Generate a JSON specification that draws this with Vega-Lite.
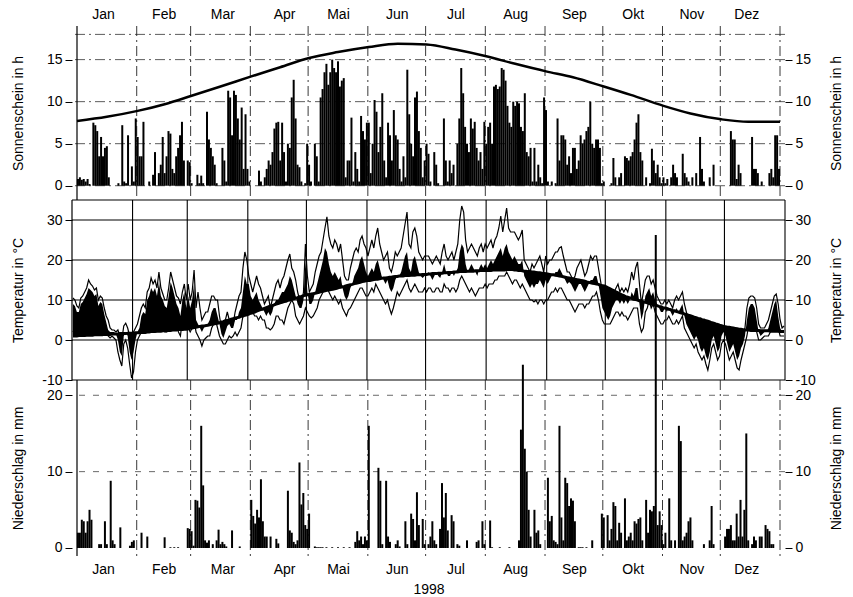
{
"$schema":"https://vega.github.io/schema/vega-lite/v6.json",
"padding":{"left":11,"top":7,"right":10,"bottom":2},
"bounds":"flush",
"spacing":0,
"config":{"view":{"stroke":null},"font":"Liberation Sans",
"axis":{"labelFont":"Liberation Sans","labelFontSize":14,"labelColor":"#000","titleFont":"Liberation Sans","titleFontSize":14,"titleFontWeight":"normal","titleColor":"#000","domain":false,"grid":false,"tickColor":"#000","tickSize":7,"labelPadding":3}},
"datasets":{
"hs":[{"v":0},{"v":5},{"v":10},{"v":15},{"v":18}],
"ht":[{"v":-10},{"v":0},{"v":10},{"v":20},{"v":30},{"v":35}],
"hp":[{"v":10},{"v":20}],
"mb":[{"b":31.5},{"b":59.5},{"b":90.5},{"b":120.5},{"b":151.5},{"b":181.5},{"b":212.5},{"b":243.5},{"b":273.5},{"b":304.5},{"b":334.5},{"b":365.5}],
"edge":[{"b":0.5}],
"astro":[{"d":0.5,"h":7.7},{"d":16,"h":8.2},{"d":32,"h":8.9},{"d":46,"h":9.7},{"d":60,"h":10.7},{"d":75,"h":11.8},{"d":91,"h":13.0},{"d":106,"h":14.1},{"d":121,"h":15.2},{"d":136,"h":15.9},{"d":152,"h":16.5},{"d":167,"h":16.9},{"d":182,"h":16.8},{"d":197,"h":16.2},{"d":213,"h":15.4},{"d":228,"h":14.5},{"d":244,"h":13.6},{"d":258,"h":12.9},{"d":274,"h":11.8},{"d":288,"h":10.8},{"d":305,"h":9.5},{"d":319,"h":8.6},{"d":335,"h":7.9},{"d":349,"h":7.6},{"d":365.5,"h":7.6}],
"daily":[
{"d":1,"s":0.8,"p":2,"x":10.5,"n":2,"m":9,"c":1},
{"d":2,"s":1,"p":2,"x":10,"n":3,"m":8.5,"c":1},
{"d":3,"s":0.7,"p":3.7,"x":8.5,"n":2,"m":7,"c":1},
{"d":4,"s":0.8,"p":3.5,"x":8,"n":2.5,"m":7,"c":1.1},
{"d":5,"s":0.5,"p":2,"x":10.5,"n":3,"m":9,"c":1.1},
{"d":6,"s":0.8,"p":3.5,"x":11,"n":3,"m":9.5,"c":1.1},
{"d":7,"s":0.2,"p":5,"x":12,"n":3,"m":10.5,"c":1.1},
{"d":8,"s":0,"p":3.7,"x":13,"n":4,"m":11.5,"c":1.2},
{"d":9,"s":7.5,"p":0,"x":15,"n":4,"m":13,"c":1.2},
{"d":10,"s":7.2,"p":0,"x":14,"n":4,"m":12.5,"c":1.2},
{"d":11,"s":6.5,"p":0,"x":13.5,"n":3,"m":12,"c":1.2},
{"d":12,"s":3.5,"p":0.5,"x":12.5,"n":4,"m":11,"c":1.3},
{"d":13,"s":5.8,"p":0.5,"x":13,"n":3,"m":11.5,"c":1.3},
{"d":14,"s":3.5,"p":0,"x":10,"n":2,"m":8.5,"c":1.3},
{"d":15,"s":4.5,"p":3.5,"x":11,"n":2,"m":9.5,"c":1.3},
{"d":16,"s":4.7,"p":0.5,"x":10.5,"n":3,"m":9,"c":1.3},
{"d":17,"s":1,"p":0,"x":8,"n":2,"m":6.5,"c":1.4},
{"d":18,"s":0,"p":8.8,"x":6,"n":2,"m":4.5,"c":1.4},
{"d":19,"s":0,"p":1,"x":5,"n":1,"m":2.5,"c":1.4},
{"d":20,"s":0,"p":0.5,"x":3,"n":0.5,"m":2,"c":1.4},
{"d":21,"s":0,"p":0,"x":2.5,"n":1,"m":2,"c":1.5},
{"d":22,"s":0.3,"p":0,"x":2.5,"n":0.5,"m":2,"c":1.5},
{"d":23,"s":0,"p":2.7,"x":2,"n":0,"m":1.5,"c":1.5},
{"d":24,"s":7.2,"p":0,"x":2.5,"n":-3,"m":0,"c":1.5},
{"d":25,"s":0.5,"p":0,"x":1,"n":-5,"m":-3,"c":1.6},
{"d":26,"s":0.3,"p":0,"x":0,"n":-6.5,"m":-4,"c":1.6},
{"d":27,"s":6,"p":0,"x":3.5,"n":-1,"m":1,"c":1.6},
{"d":28,"s":0,"p":0.3,"x":4.2,"n":0,"m":2,"c":1.6},
{"d":29,"s":2.3,"p":0.8,"x":3,"n":-2,"m":1,"c":1.7},
{"d":30,"s":0.5,"p":1,"x":1,"n":-6,"m":-3,"c":1.7},
{"d":31,"s":8,"p":0,"x":0,"n":-9.5,"m":-5,"c":1.7},
{"d":32,"s":5.8,"p":0,"x":2,"n":-8,"m":-3,"c":1.7},
{"d":33,"s":3.5,"p":0,"x":3,"n":-3,"m":0,"c":1.8},
{"d":34,"s":3.5,"p":2,"x":4,"n":0,"m":2,"c":1.8},
{"d":35,"s":7.6,"p":0,"x":6,"n":1,"m":3,"c":1.8},
{"d":36,"s":0,"p":0,"x":8,"n":2,"m":6,"c":1.9},
{"d":37,"s":0,"p":1.5,"x":9,"n":2,"m":7,"c":1.9},
{"d":38,"s":0.5,"p":0,"x":8,"n":3,"m":6.5,"c":1.9},
{"d":39,"s":0,"p":0,"x":12,"n":4,"m":10,"c":2},
{"d":40,"s":1.3,"p":0,"x":13,"n":5,"m":11,"c":2},
{"d":41,"s":4,"p":0,"x":15.5,"n":8,"m":13,"c":2.1},
{"d":42,"s":0,"p":0,"x":14,"n":7,"m":12,"c":2.1},
{"d":43,"s":1.5,"p":0,"x":15,"n":6,"m":13,"c":2.1},
{"d":44,"s":2.5,"p":0,"x":13,"n":4,"m":11,"c":2.2},
{"d":45,"s":5.8,"p":0,"x":17,"n":6,"m":14.5,"c":2.2},
{"d":46,"s":1.5,"p":1.4,"x":13,"n":3,"m":11,"c":2.2},
{"d":47,"s":3.5,"p":0,"x":11.5,"n":4,"m":10,"c":2.3},
{"d":48,"s":6.5,"p":0,"x":10,"n":2,"m":8.5,"c":2.3},
{"d":49,"s":6.2,"p":0.1,"x":10,"n":2,"m":8,"c":2.3},
{"d":50,"s":2,"p":0,"x":13,"n":3,"m":11,"c":2.4},
{"d":51,"s":1.5,"p":0.1,"x":17,"n":5,"m":14.5,"c":2.4},
{"d":52,"s":3.5,"p":0,"x":15,"n":4,"m":13,"c":2.5},
{"d":53,"s":4.5,"p":0.1,"x":13,"n":3,"m":11,"c":2.5},
{"d":54,"s":6,"p":0,"x":11,"n":4,"m":9,"c":2.5},
{"d":55,"s":7.6,"p":0,"x":10.5,"n":2,"m":8,"c":2.6},
{"d":56,"s":3,"p":0,"x":9,"n":1,"m":6,"c":2.6},
{"d":57,"s":0,"p":0,"x":12,"n":5,"m":10,"c":2.6},
{"d":58,"s":3,"p":2.6,"x":14,"n":6,"m":12,"c":2.7},
{"d":59,"s":2.8,"p":2.5,"x":10,"n":3,"m":8,"c":2.7},
{"d":60,"s":0.3,"p":2.2,"x":14,"n":3,"m":11,"c":2.8},
{"d":61,"s":0,"p":0.3,"x":10,"n":2,"m":8,"c":2.9},
{"d":62,"s":0,"p":6.3,"x":12,"n":3,"m":10,"c":3},
{"d":63,"s":1.3,"p":6.2,"x":17.5,"n":5,"m":14,"c":3.1},
{"d":64,"s":0.3,"p":5.3,"x":8,"n":2,"m":5,"c":3.2},
{"d":65,"s":1.2,"p":16,"x":12,"n":1,"m":4,"c":3.3},
{"d":66,"s":0.3,"p":8.2,"x":8,"n":0,"m":3,"c":3.4},
{"d":67,"s":0,"p":1,"x":5,"n":-1.5,"m":2,"c":3.5},
{"d":68,"s":8.8,"p":0.7,"x":6,"n":0,"m":3,"c":3.5},
{"d":69,"s":5.5,"p":1,"x":7,"n":0.5,"m":4,"c":3.6},
{"d":70,"s":4.5,"p":0,"x":7,"n":1,"m":4,"c":3.7},
{"d":71,"s":3.5,"p":0.5,"x":9,"n":1,"m":5,"c":3.8},
{"d":72,"s":2.5,"p":0,"x":11,"n":3,"m":7,"c":3.9},
{"d":73,"s":0.3,"p":1,"x":11,"n":4,"m":8,"c":4},
{"d":74,"s":0,"p":2.4,"x":10,"n":5,"m":8,"c":4.1},
{"d":75,"s":0,"p":0.5,"x":10,"n":3,"m":6,"c":4.2},
{"d":76,"s":4.5,"p":0.8,"x":6,"n":1,"m":4,"c":4.3},
{"d":77,"s":3,"p":0.5,"x":3,"n":0,"m":1.5,"c":4.5},
{"d":78,"s":0.5,"p":0.2,"x":2,"n":-1,"m":0.5,"c":4.6},
{"d":79,"s":11.3,"p":0,"x":5,"n":-1,"m":2,"c":4.8},
{"d":80,"s":10.5,"p":0,"x":7,"n":0,"m":3.5,"c":4.9},
{"d":81,"s":6,"p":2.3,"x":5,"n":1,"m":4,"c":5},
{"d":82,"s":11.3,"p":0,"x":5,"n":0.5,"m":3,"c":5.2},
{"d":83,"s":10.8,"p":0,"x":4,"n":1,"m":3,"c":5.3},
{"d":84,"s":8,"p":0,"x":7,"n":2,"m":5,"c":5.5},
{"d":85,"s":5.5,"p":0.2,"x":9,"n":1,"m":5,"c":5.6},
{"d":86,"s":9.3,"p":0,"x":11,"n":2,"m":7,"c":5.7},
{"d":87,"s":2,"p":0,"x":12,"n":3,"m":8,"c":5.9},
{"d":88,"s":8.5,"p":0,"x":18,"n":6,"m":12,"c":6},
{"d":89,"s":2,"p":0,"x":22,"n":8,"m":16,"c":6.2},
{"d":90,"s":0.5,"p":0,"x":20,"n":8,"m":14,"c":6.3},
{"d":91,"s":0,"p":6.3,"x":16,"n":8,"m":14,"c":6.5},
{"d":92,"s":0,"p":4.2,"x":14,"n":7,"m":11,"c":6.7},
{"d":93,"s":0,"p":3.2,"x":12,"n":7,"m":10,"c":6.8},
{"d":94,"s":0,"p":5,"x":14,"n":6,"m":11,"c":7},
{"d":95,"s":1.8,"p":4,"x":16,"n":6,"m":12,"c":7.2},
{"d":96,"s":0.5,"p":9,"x":14,"n":5,"m":10,"c":7.4},
{"d":97,"s":0,"p":3.5,"x":13,"n":6,"m":9,"c":7.6},
{"d":98,"s":1,"p":1.5,"x":11,"n":5,"m":8,"c":7.7},
{"d":99,"s":2,"p":1.5,"x":9,"n":5,"m":7,"c":7.9},
{"d":100,"s":3,"p":0,"x":10,"n":3,"m":6,"c":8.1},
{"d":101,"s":2.5,"p":1.5,"x":11,"n":3,"m":7,"c":8.3},
{"d":102,"s":4,"p":0,"x":8,"n":2.5,"m":6,"c":8.5},
{"d":103,"s":6.8,"p":0,"x":10,"n":3,"m":7,"c":8.6},
{"d":104,"s":7.5,"p":1.2,"x":12,"n":4,"m":9,"c":8.8},
{"d":105,"s":7.6,"p":0.6,"x":14,"n":6,"m":10,"c":9},
{"d":106,"s":3,"p":0,"x":15,"n":6,"m":10,"c":9.1},
{"d":107,"s":7.5,"p":0,"x":13,"n":5,"m":11,"c":9.3},
{"d":108,"s":4,"p":0,"x":15,"n":5,"m":12,"c":9.4},
{"d":109,"s":0.5,"p":0,"x":16,"n":4,"m":12,"c":9.6},
{"d":110,"s":5,"p":7.5,"x":18,"n":6,"m":13,"c":9.7},
{"d":111,"s":4.5,"p":2.3,"x":20,"n":8,"m":14,"c":9.9},
{"d":112,"s":10.5,"p":2,"x":21.5,"n":9,"m":16,"c":10},
{"d":113,"s":12.6,"p":0.8,"x":18,"n":10,"m":15,"c":10.2},
{"d":114,"s":8,"p":0.5,"x":17,"n":9,"m":13,"c":10.3},
{"d":115,"s":2.5,"p":1,"x":15,"n":6,"m":11,"c":10.5},
{"d":116,"s":2.2,"p":11.2,"x":12,"n":5,"m":9,"c":10.6},
{"d":117,"s":0.5,"p":5.7,"x":10,"n":4,"m":8,"c":10.8},
{"d":118,"s":0,"p":7.2,"x":9,"n":5,"m":8,"c":10.9},
{"d":119,"s":0.3,"p":3,"x":12,"n":6,"m":10,"c":11.1},
{"d":120,"s":5,"p":2.5,"x":24,"n":8,"m":20,"c":11.2},
{"d":121,"s":2.5,"p":4.5,"x":16,"n":7,"m":12,"c":11.3},
{"d":122,"s":0.5,"p":0,"x":12,"n":6,"m":9,"c":11.4},
{"d":123,"s":0,"p":0,"x":13,"n":5.5,"m":9,"c":11.5},
{"d":124,"s":5,"p":0.2,"x":14,"n":6,"m":10,"c":11.6},
{"d":125,"s":3.5,"p":0.1,"x":17,"n":7,"m":12,"c":11.7},
{"d":126,"s":0.5,"p":0.1,"x":19,"n":8,"m":14,"c":11.8},
{"d":127,"s":10.5,"p":0.1,"x":21,"n":10,"m":16,"c":11.9},
{"d":128,"s":11.5,"p":0.1,"x":22,"n":11,"m":18,"c":12.1},
{"d":129,"s":13.5,"p":0,"x":25,"n":12,"m":20,"c":12.2},
{"d":130,"s":14.5,"p":0.1,"x":28,"n":14,"m":23,"c":12.3},
{"d":131,"s":12,"p":0,"x":30.8,"n":14,"m":22,"c":12.4},
{"d":132,"s":13.5,"p":0,"x":26,"n":12,"m":19,"c":12.5},
{"d":133,"s":15,"p":0.1,"x":24,"n":11,"m":17,"c":12.6},
{"d":134,"s":14,"p":0,"x":23,"n":10,"m":16,"c":12.7},
{"d":135,"s":13.5,"p":0,"x":25,"n":11,"m":17,"c":12.8},
{"d":136,"s":14.8,"p":0.1,"x":24,"n":10,"m":16,"c":12.9},
{"d":137,"s":11.8,"p":0,"x":22,"n":9,"m":15,"c":13.1},
{"d":138,"s":12.5,"p":0,"x":24,"n":10,"m":16,"c":13.2},
{"d":139,"s":12.8,"p":0.1,"x":20,"n":8,"m":13,"c":13.3},
{"d":140,"s":1,"p":0,"x":16,"n":7,"m":11,"c":13.4},
{"d":141,"s":3,"p":0,"x":15,"n":6,"m":10,"c":13.6},
{"d":142,"s":3,"p":0.1,"x":15,"n":7.5,"m":11,"c":13.7},
{"d":143,"s":8.1,"p":0,"x":18,"n":8,"m":13,"c":13.8},
{"d":144,"s":0.5,"p":0,"x":20,"n":9,"m":14,"c":13.9},
{"d":145,"s":4,"p":0.8,"x":22,"n":10,"m":16,"c":14.1},
{"d":146,"s":2,"p":2.2,"x":23,"n":11,"m":17,"c":14.2},
{"d":147,"s":0.5,"p":1,"x":22,"n":12,"m":18,"c":14.3},
{"d":148,"s":8.3,"p":1.5,"x":25,"n":13,"m":20,"c":14.4},
{"d":149,"s":6.5,"p":0.5,"x":26,"n":13,"m":21,"c":14.6},
{"d":150,"s":5.5,"p":1.5,"x":24,"n":12,"m":19,"c":14.7},
{"d":151,"s":7.5,"p":1,"x":23,"n":11,"m":17,"c":14.8},
{"d":152,"s":7.5,"p":16,"x":21,"n":11,"m":16,"c":14.9},
{"d":153,"s":1.5,"p":0,"x":23,"n":12,"m":17,"c":14.9},
{"d":154,"s":5,"p":0,"x":25,"n":13,"m":18,"c":15},
{"d":155,"s":10.2,"p":0,"x":23,"n":12,"m":17,"c":15.1},
{"d":156,"s":8.8,"p":0,"x":26,"n":14,"m":19,"c":15.2},
{"d":157,"s":4,"p":10.5,"x":28,"n":13,"m":20,"c":15.2},
{"d":158,"s":7,"p":8.8,"x":24,"n":12,"m":18,"c":15.3},
{"d":159,"s":11,"p":0.5,"x":22,"n":11,"m":16,"c":15.4},
{"d":160,"s":3,"p":0,"x":20,"n":10,"m":15,"c":15.5},
{"d":161,"s":1,"p":8.8,"x":21,"n":9,"m":14,"c":15.5},
{"d":162,"s":7.5,"p":1.5,"x":22,"n":10,"m":15,"c":15.6},
{"d":163,"s":6,"p":0.8,"x":18,"n":8,"m":13,"c":15.7},
{"d":164,"s":3,"p":0,"x":17,"n":6.5,"m":12,"c":15.7},
{"d":165,"s":9,"p":0,"x":19,"n":8,"m":13,"c":15.8},
{"d":166,"s":6,"p":0.5,"x":22,"n":10,"m":15,"c":15.9},
{"d":167,"s":5.5,"p":1,"x":21,"n":12,"m":16,"c":15.9},
{"d":168,"s":2,"p":0.2,"x":22,"n":11,"m":16,"c":16},
{"d":169,"s":0.5,"p":0,"x":23,"n":12,"m":17,"c":16},
{"d":170,"s":3.5,"p":0,"x":26,"n":13,"m":19,"c":16},
{"d":171,"s":1,"p":3.5,"x":29,"n":14,"m":21,"c":16.1},
{"d":172,"s":13.8,"p":0.5,"x":32,"n":15,"m":22,"c":16.1},
{"d":173,"s":8.5,"p":0,"x":24,"n":13,"m":18,"c":16.1},
{"d":174,"s":5,"p":4.5,"x":23,"n":12,"m":17,"c":16.2},
{"d":175,"s":3.5,"p":3.8,"x":27,"n":13,"m":20,"c":16.2},
{"d":176,"s":10.5,"p":1,"x":28,"n":14,"m":21,"c":16.2},
{"d":177,"s":11.2,"p":7.3,"x":26,"n":13,"m":19,"c":16.3},
{"d":178,"s":6.5,"p":3,"x":22,"n":12,"m":17,"c":16.3},
{"d":179,"s":4.5,"p":0,"x":21,"n":12,"m":16,"c":16.3},
{"d":180,"s":1,"p":3.8,"x":20,"n":12,"m":15.5,"c":16.4},
{"d":181,"s":3,"p":0.5,"x":21,"n":13,"m":16,"c":16.4},
{"d":182,"s":5,"p":0,"x":21,"n":12,"m":16,"c":16.4},
{"d":183,"s":3.8,"p":0.5,"x":21,"n":13,"m":17,"c":16.5},
{"d":184,"s":0.5,"p":1.5,"x":20,"n":13,"m":16,"c":16.5},
{"d":185,"s":0,"p":3.5,"x":19,"n":12,"m":15,"c":16.6},
{"d":186,"s":4,"p":1,"x":20,"n":12,"m":16,"c":16.6},
{"d":187,"s":2.5,"p":0.5,"x":21,"n":13,"m":17,"c":16.6},
{"d":188,"s":0.3,"p":0,"x":20,"n":13,"m":16,"c":16.7},
{"d":189,"s":0,"p":2.5,"x":19,"n":12,"m":15.5,"c":16.7},
{"d":190,"s":0,"p":8.5,"x":22,"n":12,"m":17,"c":16.7},
{"d":191,"s":8,"p":4,"x":24,"n":14,"m":19,"c":16.8},
{"d":192,"s":3,"p":7.2,"x":21,"n":13,"m":17,"c":16.8},
{"d":193,"s":0.5,"p":2.3,"x":20,"n":13,"m":16,"c":16.9},
{"d":194,"s":3,"p":0,"x":21,"n":12,"m":16,"c":16.9},
{"d":195,"s":1.5,"p":4.3,"x":22,"n":13,"m":17,"c":16.9},
{"d":196,"s":2.5,"p":3.5,"x":20,"n":13,"m":16,"c":17},
{"d":197,"s":0,"p":0,"x":22,"n":12,"m":17,"c":17},
{"d":198,"s":5,"p":0.5,"x":24,"n":13,"m":18,"c":17},
{"d":199,"s":8,"p":0.3,"x":30,"n":15,"m":22,"c":17.1},
{"d":200,"s":14,"p":0,"x":33.5,"n":16,"m":24,"c":17.1},
{"d":201,"s":11,"p":0,"x":32,"n":15,"m":23,"c":17.1},
{"d":202,"s":7,"p":0,"x":25,"n":14,"m":19,"c":17.1},
{"d":203,"s":5,"p":1,"x":22,"n":13,"m":17,"c":17.2},
{"d":204,"s":4,"p":0,"x":23,"n":12,"m":18,"c":17.2},
{"d":205,"s":8,"p":0,"x":24,"n":13,"m":19,"c":17.2},
{"d":206,"s":6.8,"p":0,"x":23,"n":12,"m":18,"c":17.2},
{"d":207,"s":7.6,"p":0,"x":22,"n":11,"m":17,"c":17.3},
{"d":208,"s":4.5,"p":0.8,"x":21,"n":12,"m":16,"c":17.3},
{"d":209,"s":3,"p":1,"x":23,"n":13,"m":18,"c":17.3},
{"d":210,"s":4,"p":0,"x":24,"n":13,"m":19,"c":17.4},
{"d":211,"s":2,"p":3.5,"x":22,"n":13,"m":18,"c":17.4},
{"d":212,"s":7.6,"p":0.5,"x":24,"n":14,"m":19,"c":17.4},
{"d":213,"s":5,"p":0,"x":23,"n":13,"m":18,"c":17.4},
{"d":214,"s":7,"p":0,"x":24,"n":14,"m":19,"c":17.4},
{"d":215,"s":7.5,"p":3.6,"x":25,"n":14,"m":20,"c":17.4},
{"d":216,"s":5,"p":0.1,"x":23,"n":14,"m":19,"c":17.5},
{"d":217,"s":11.8,"p":0,"x":25,"n":15,"m":20,"c":17.5},
{"d":218,"s":12,"p":0,"x":26,"n":15,"m":21,"c":17.5},
{"d":219,"s":11.5,"p":0,"x":28,"n":16,"m":22,"c":17.5},
{"d":220,"s":11.8,"p":0.1,"x":31,"n":16,"m":23,"c":17.5},
{"d":221,"s":14,"p":0,"x":27,"n":16,"m":21,"c":17.5},
{"d":222,"s":13.8,"p":0,"x":30,"n":16,"m":23,"c":17.5},
{"d":223,"s":12.5,"p":0,"x":33,"n":17,"m":24,"c":17.6},
{"d":224,"s":9.5,"p":0,"x":28,"n":16,"m":22,"c":17.6},
{"d":225,"s":7.5,"p":0.1,"x":27,"n":15,"m":21,"c":17.6},
{"d":226,"s":7,"p":0,"x":27,"n":14,"m":20,"c":17.6},
{"d":227,"s":10,"p":0,"x":27,"n":15,"m":21,"c":17.5},
{"d":228,"s":9.5,"p":0,"x":26,"n":15,"m":20,"c":17.5},
{"d":229,"s":10,"p":0,"x":25,"n":14,"m":19,"c":17.4},
{"d":230,"s":9.8,"p":1,"x":26,"n":13,"m":19,"c":17.4},
{"d":231,"s":7,"p":15.5,"x":27.5,"n":14,"m":20,"c":17.3},
{"d":232,"s":6.5,"p":24,"x":20,"n":13,"m":16,"c":17.2},
{"d":233,"s":11,"p":13,"x":19,"n":12,"m":15,"c":17.2},
{"d":234,"s":4,"p":10,"x":18,"n":11,"m":14,"c":17.1},
{"d":235,"s":3.5,"p":5,"x":17,"n":10,"m":13,"c":17.1},
{"d":236,"s":4.5,"p":1.5,"x":19,"n":10,"m":14,"c":17},
{"d":237,"s":0.5,"p":0,"x":18,"n":9.5,"m":13,"c":17},
{"d":238,"s":4.5,"p":5,"x":19,"n":10,"m":14,"c":16.9},
{"d":239,"s":0.5,"p":2,"x":20,"n":9,"m":14,"c":16.8},
{"d":240,"s":2.5,"p":2.3,"x":21,"n":10,"m":15,"c":16.8},
{"d":241,"s":1,"p":0.5,"x":19,"n":10,"m":14,"c":16.7},
{"d":242,"s":0.3,"p":0,"x":17,"n":9,"m":13,"c":16.7},
{"d":243,"s":10.5,"p":0,"x":21,"n":10,"m":15,"c":16.6},
{"d":244,"s":9,"p":0,"x":19,"n":10,"m":14,"c":16.5},
{"d":245,"s":0.5,"p":9.2,"x":20,"n":11,"m":15,"c":16.4},
{"d":246,"s":0,"p":3.5,"x":20,"n":12,"m":16,"c":16.3},
{"d":247,"s":0.5,"p":4.2,"x":21,"n":12,"m":16,"c":16.3},
{"d":248,"s":0,"p":1,"x":22,"n":13,"m":17,"c":16.2},
{"d":249,"s":0.3,"p":0.8,"x":22,"n":12,"m":17,"c":16.1},
{"d":250,"s":8,"p":0.5,"x":23,"n":13,"m":18,"c":16},
{"d":251,"s":3,"p":16,"x":23.3,"n":13,"m":17,"c":15.9},
{"d":252,"s":6,"p":4,"x":21,"n":12,"m":16,"c":15.8},
{"d":253,"s":6,"p":1,"x":19,"n":11,"m":15,"c":15.7},
{"d":254,"s":5.5,"p":9.2,"x":17,"n":10,"m":14,"c":15.6},
{"d":255,"s":2.5,"p":8.5,"x":17,"n":10,"m":14.5,"c":15.5},
{"d":256,"s":3.5,"p":5.5,"x":16,"n":9,"m":14,"c":15.4},
{"d":257,"s":1.5,"p":6.5,"x":15,"n":8,"m":13,"c":15.3},
{"d":258,"s":4.5,"p":6.2,"x":16,"n":7,"m":12,"c":15.2},
{"d":259,"s":4.5,"p":3.5,"x":18,"n":8,"m":13,"c":15.1},
{"d":260,"s":2,"p":0,"x":19,"n":9,"m":14,"c":15},
{"d":261,"s":3,"p":0.1,"x":20,"n":9,"m":14,"c":14.9},
{"d":262,"s":6,"p":0.1,"x":18,"n":9,"m":13,"c":14.8},
{"d":263,"s":5,"p":0.1,"x":16,"n":8,"m":12,"c":14.7},
{"d":264,"s":5.5,"p":0,"x":17,"n":9,"m":13,"c":14.5},
{"d":265,"s":6.5,"p":0.1,"x":19,"n":9,"m":14,"c":14.4},
{"d":266,"s":7,"p":0,"x":21,"n":10,"m":15,"c":14.3},
{"d":267,"s":10,"p":0,"x":20,"n":11,"m":15,"c":14.2},
{"d":268,"s":5,"p":1,"x":21,"n":11,"m":16,"c":14.1},
{"d":269,"s":4.5,"p":0,"x":21,"n":12,"m":16,"c":14},
{"d":270,"s":5.5,"p":0,"x":18,"n":10,"m":14,"c":13.9},
{"d":271,"s":5.5,"p":0,"x":15,"n":7,"m":11,"c":13.7},
{"d":272,"s":4.5,"p":0,"x":12,"n":5,"m":8,"c":13.6},
{"d":273,"s":0.3,"p":4.5,"x":11,"n":4,"m":7,"c":13.5},
{"d":274,"s":0.5,"p":4,"x":10,"n":4,"m":6,"c":13.3},
{"d":275,"s":0,"p":0,"x":8,"n":4,"m":5,"c":13},
{"d":276,"s":0,"p":4.3,"x":9,"n":4,"m":6,"c":12.8},
{"d":277,"s":0,"p":1,"x":11,"n":5,"m":8,"c":12.5},
{"d":278,"s":0.3,"p":2.5,"x":12,"n":6,"m":9,"c":12.3},
{"d":279,"s":3.3,"p":6,"x":13,"n":7,"m":10,"c":12},
{"d":280,"s":1,"p":5.5,"x":14,"n":7,"m":10,"c":11.8},
{"d":281,"s":0,"p":1,"x":12,"n":6,"m":9,"c":11.5},
{"d":282,"s":1,"p":3.3,"x":13,"n":7,"m":10,"c":11.3},
{"d":283,"s":1.5,"p":2,"x":12,"n":6,"m":9,"c":11.1},
{"d":284,"s":0,"p":0,"x":13,"n":6,"m":10,"c":10.8},
{"d":285,"s":3.5,"p":6.5,"x":12,"n":5,"m":9,"c":10.7},
{"d":286,"s":3.3,"p":1,"x":14,"n":6,"m":10,"c":10.5},
{"d":287,"s":3,"p":1.5,"x":17,"n":7,"m":12,"c":10.4},
{"d":288,"s":3.5,"p":2,"x":15,"n":8,"m":11,"c":10.2},
{"d":289,"s":4,"p":1,"x":18,"n":8,"m":13,"c":10.1},
{"d":290,"s":5.5,"p":3.5,"x":19.5,"n":8,"m":13,"c":10},
{"d":291,"s":7.5,"p":3.2,"x":14,"n":4,"m":9,"c":9.8},
{"d":292,"s":8.5,"p":3.8,"x":9,"n":2,"m":5,"c":9.7},
{"d":293,"s":4,"p":4,"x":12,"n":3,"m":7,"c":9.5},
{"d":294,"s":3,"p":1,"x":15,"n":7,"m":11,"c":9.4},
{"d":295,"s":0,"p":0,"x":16,"n":8,"m":12,"c":9.3},
{"d":296,"s":1,"p":6.3,"x":16,"n":10,"m":13,"c":9.1},
{"d":297,"s":0,"p":2,"x":14,"n":8,"m":11,"c":9},
{"d":298,"s":0.3,"p":5,"x":15,"n":9,"m":12,"c":8.8},
{"d":299,"s":4.4,"p":4.8,"x":13,"n":7,"m":10,"c":8.7},
{"d":300,"s":3,"p":5.5,"x":11,"n":6,"m":9,"c":8.6},
{"d":301,"s":1.5,"p":41,"x":10,"n":5,"m":8,"c":8.4},
{"d":302,"s":2.5,"p":3,"x":9,"n":4,"m":7,"c":8.3},
{"d":303,"s":1,"p":4.8,"x":9,"n":4,"m":7,"c":8.1},
{"d":304,"s":0.3,"p":3,"x":10,"n":5,"m":8,"c":8},
{"d":305,"s":1,"p":0.5,"x":9,"n":5,"m":7,"c":7.9},
{"d":306,"s":0.3,"p":2,"x":10,"n":6,"m":8,"c":7.7},
{"d":307,"s":0.8,"p":0,"x":9,"n":5,"m":7,"c":7.6},
{"d":308,"s":0,"p":6.5,"x":8,"n":4,"m":6,"c":7.4},
{"d":309,"s":1,"p":1,"x":10,"n":4,"m":7,"c":7.3},
{"d":310,"s":2.5,"p":0,"x":11,"n":5,"m":8,"c":7.1},
{"d":311,"s":1.5,"p":1,"x":10,"n":4,"m":7,"c":7},
{"d":312,"s":1,"p":0,"x":11,"n":5,"m":8,"c":6.8},
{"d":313,"s":0,"p":16,"x":12,"n":6,"m":9,"c":6.7},
{"d":314,"s":0,"p":14,"x":9,"n":3,"m":6,"c":6.5},
{"d":315,"s":3.8,"p":1,"x":7,"n":2,"m":4,"c":6.4},
{"d":316,"s":1.5,"p":1.5,"x":5,"n":1,"m":3,"c":6.2},
{"d":317,"s":1,"p":2,"x":4,"n":0,"m":2,"c":6.1},
{"d":318,"s":0.5,"p":3.5,"x":3,"n":-1,"m":1,"c":5.9},
{"d":319,"s":0,"p":4,"x":2,"n":-2,"m":0,"c":5.7},
{"d":320,"s":1,"p":1,"x":3,"n":-1,"m":1,"c":5.6},
{"d":321,"s":0,"p":0,"x":2,"n":-3,"m":0,"c":5.4},
{"d":322,"s":1.5,"p":0,"x":1,"n":-4,"m":-2,"c":5.3},
{"d":323,"s":0,"p":0,"x":0,"n":-5,"m":-3,"c":5.1},
{"d":324,"s":5.8,"p":0,"x":1,"n":-4,"m":-2,"c":5},
{"d":325,"s":2,"p":0,"x":-1,"n":-6,"m":-4,"c":4.8},
{"d":326,"s":0.5,"p":0.5,"x":-2,"n":-7.5,"m":-5,"c":4.7},
{"d":327,"s":0,"p":0,"x":0,"n":-5,"m":-3,"c":4.5},
{"d":328,"s":0,"p":0,"x":2,"n":-2,"m":0,"c":4.3},
{"d":329,"s":1,"p":1,"x":3,"n":-1,"m":1,"c":4.2},
{"d":330,"s":0,"p":5.5,"x":1,"n":-3,"m":-1,"c":4},
{"d":331,"s":2.5,"p":0.5,"x":0,"n":-5,"m":-3,"c":3.9},
{"d":332,"s":0,"p":0,"x":2,"n":-4,"m":-2,"c":3.7},
{"d":333,"s":0,"p":0,"x":3,"n":-1,"m":1,"c":3.6},
{"d":334,"s":0,"p":0,"x":3.5,"n":0,"m":2,"c":3.4},
{"d":335,"s":0,"p":0,"x":3,"n":-1,"m":1,"c":3.3},
{"d":336,"s":0,"p":0,"x":1,"n":-3,"m":-1,"c":3.2},
{"d":337,"s":0,"p":1.5,"x":0,"n":-5,"m":-3,"c":3.2},
{"d":338,"s":0,"p":2.5,"x":1,"n":-4,"m":-2,"c":3.1},
{"d":339,"s":0,"p":2.5,"x":2,"n":-3,"m":-1,"c":3},
{"d":340,"s":6.5,"p":3,"x":0,"n":-5,"m":-3,"c":2.9},
{"d":341,"s":5.5,"p":1,"x":-1,"n":-7,"m":-5,"c":2.8},
{"d":342,"s":5.5,"p":1,"x":-1,"n":-7.5,"m":-4,"c":2.7},
{"d":343,"s":0.8,"p":4.5,"x":1,"n":-5,"m":-2,"c":2.7},
{"d":344,"s":2.5,"p":1.5,"x":2,"n":-3,"m":-1,"c":2.6},
{"d":345,"s":1.5,"p":6.3,"x":3,"n":-1,"m":1,"c":2.5},
{"d":346,"s":0,"p":1.5,"x":8,"n":1,"m":5,"c":2.5},
{"d":347,"s":0,"p":5,"x":10.5,"n":4,"m":8,"c":2.5},
{"d":348,"s":0,"p":15,"x":11,"n":6,"m":9,"c":2.4},
{"d":349,"s":0,"p":1,"x":11,"n":7,"m":9,"c":2.4},
{"d":350,"s":0,"p":0,"x":10.5,"n":5,"m":8,"c":2.4},
{"d":351,"s":5.8,"p":0.5,"x":8,"n":2,"m":5,"c":2.4},
{"d":352,"s":2,"p":1.5,"x":4,"n":0,"m":2,"c":2.4},
{"d":353,"s":2,"p":1,"x":3,"n":0,"m":1,"c":2.3},
{"d":354,"s":1.5,"p":0,"x":3,"n":0.5,"m":1.5,"c":2.3},
{"d":355,"s":0,"p":1.5,"x":3,"n":1,"m":2,"c":2.3},
{"d":356,"s":0.5,"p":1.5,"x":4,"n":1,"m":2,"c":2.3},
{"d":357,"s":0,"p":0,"x":5,"n":1,"m":3,"c":2.3},
{"d":358,"s":0,"p":3,"x":7,"n":2,"m":5,"c":2.2},
{"d":359,"s":0,"p":2.5,"x":9,"n":3,"m":7,"c":2.2},
{"d":360,"s":1.5,"p":2.2,"x":11,"n":5,"m":9,"c":2.2},
{"d":361,"s":2,"p":0.5,"x":11.5,"n":6,"m":10,"c":2.2},
{"d":362,"s":1,"p":0.5,"x":9,"n":3,"m":6,"c":2.2},
{"d":363,"s":6,"p":0,"x":5,"n":1,"m":3,"c":2.1},
{"d":364,"s":6,"p":0,"x":3,"n":1,"m":2,"c":2.1},
{"d":365,"s":2,"p":0,"x":3.5,"n":1,"m":2.5,"c":2.1}
]},
"vconcat":[
{"width":713,"height":174,
 "layer":[
  {"data":{"name":"hs"},"mark":{"type":"rule","strokeDash":[10,4,2,4],"strokeWidth":0.8,"color":"#333"},
   "encoding":{"y":{"field":"v","type":"quantitative","scale":{"domain":[-1.7,19],"nice":false,"zero":false},
     "axis":{"orient":"left","values":[0,5,10,15],"title":"Sonnenschein in h","titleAngle":270,"titleBaseline":"middle","titleAlign":"center","titleX":-54,"titleY":87}}}},
  {"data":{"name":"mb"},"mark":{"type":"rule","strokeDash":[10,4,2,4],"strokeWidth":0.9,"color":"#222"},
   "encoding":{"x":{"field":"b","type":"quantitative","scale":{"domain":[0.5,365.5],"nice":false,"zero":false},
     "axis":{"orient":"top","values":[14,45.5,76,108,136,166.5,197,228,258.5,289,319.5,348],"labelExpr":"['Jan','Feb','Mar','Apr','Mai','Jun','Jul','Aug','Sep','Okt','Nov','Dez'][floor(datum.value/30.5)]","ticks":false,"labelPadding":5,"title":null}}}},
  {"data":{"name":"edge"},"mark":{"type":"rule","strokeWidth":1.2,"color":"#000"},
   "encoding":{"x":{"field":"b","type":"quantitative","scale":{"domain":[0.5,365.5],"nice":false,"zero":false},"axis":null}}},
  {"data":{"name":"daily"},"mark":{"type":"bar","size":2,"color":"#000"},
   "encoding":{"x":{"field":"d","type":"quantitative","scale":{"domain":[0.5,365.5],"nice":false,"zero":false},"axis":null},
     "y":{"field":"s","type":"quantitative","scale":{"domain":[-1.7,19],"nice":false,"zero":false},"axis":null}}},
  {"data":{"name":"astro"},"mark":{"type":"line","color":"#000","strokeWidth":2.5,"interpolate":"monotone"},
   "encoding":{"x":{"field":"d","type":"quantitative","scale":{"domain":[0.5,365.5],"nice":false,"zero":false},"axis":null},
     "y":{"field":"h","type":"quantitative","scale":{"domain":[-1.7,19],"nice":false,"zero":false},
     "axis":{"orient":"right","values":[0,5,10,15],"title":"Sonnenschein in h","titleAngle":270,"titleBaseline":"middle","titleAlign":"center","titleX":51,"titleY":87}}}}
 ],
 "resolve":{"axis":{"y":"independent","x":"independent"}}
},
{"width":713,"height":180,
 "layer":[
  {"data":{"name":"ht"},"mark":{"type":"rule","strokeWidth":1.1,"color":"#000"},
   "encoding":{"y":{"field":"v","type":"quantitative","scale":{"domain":[-10,35],"nice":false,"zero":false},
     "axis":{"orient":"left","values":[-10,0,10,20,30],"labelExpr":"'' + datum.value","title":"Temperatur in °C","titleAngle":270,"titleBaseline":"middle","titleAlign":"center","titleX":-54,"titleY":90}}}},
  {"data":{"name":"mb"},"mark":{"type":"rule","strokeWidth":1.1,"color":"#000"},
   "encoding":{"x":{"field":"b","type":"quantitative","scale":{"domain":[0.5,365.5],"nice":false,"zero":false},"axis":null}}},
  {"data":{"name":"edge"},"mark":{"type":"rule","strokeWidth":1.2,"color":"#000"},
   "encoding":{"x":{"field":"b","type":"quantitative","scale":{"domain":[0.5,365.5],"nice":false,"zero":false},"axis":null}}},
  {"data":{"name":"daily"},"mark":{"type":"area","color":"#000"},
   "encoding":{"x":{"field":"d","type":"quantitative","scale":{"domain":[0.5,365.5],"nice":false,"zero":false},"axis":null},
     "y":{"field":"m","type":"quantitative","scale":{"domain":[-10,35],"nice":false,"zero":false},"axis":null},
     "y2":{"field":"c"}}},
  {"data":{"name":"daily"},"mark":{"type":"line","color":"#000","strokeWidth":1.2},
   "encoding":{"x":{"field":"d","type":"quantitative","scale":{"domain":[0.5,365.5],"nice":false,"zero":false},"axis":null},
     "y":{"field":"x","type":"quantitative","scale":{"domain":[-10,35],"nice":false,"zero":false},"axis":null}}},
  {"data":{"name":"daily"},"mark":{"type":"line","color":"#000","strokeWidth":1.2},
   "encoding":{"x":{"field":"d","type":"quantitative","scale":{"domain":[0.5,365.5],"nice":false,"zero":false},"axis":null},
     "y":{"field":"n","type":"quantitative","scale":{"domain":[-10,35],"nice":false,"zero":false},"axis":null}}},
  {"data":{"name":"daily"},"mark":{"type":"line","color":"#000","strokeWidth":3},
   "encoding":{"x":{"field":"d","type":"quantitative","scale":{"domain":[0.5,365.5],"nice":false,"zero":false},"axis":null},
     "y":{"field":"c","type":"quantitative","scale":{"domain":[-10,35],"nice":false,"zero":false},
     "axis":{"orient":"right","values":[-10,0,10,20,30],"labelExpr":"'' + datum.value","title":"Temperatur in °C","titleAngle":270,"titleBaseline":"middle","titleAlign":"center","titleX":51,"titleY":90}}}}
 ],
 "resolve":{"axis":{"y":"independent","x":"independent"}}
},
{"width":713,"height":176,
 "layer":[
  {"data":{"name":"hp"},"mark":{"type":"rule","strokeDash":[6,8],"strokeWidth":0.8,"color":"#444"},
   "encoding":{"y":{"field":"v","type":"quantitative","scale":{"domain":[-1.05,22],"nice":false,"zero":false},
     "axis":{"orient":"left","values":[0,10,20],"title":"Niederschlag in mm","titleAngle":270,"titleBaseline":"middle","titleAlign":"center","titleX":-54,"titleY":88}}}},
  {"data":{"name":"mb"},"mark":{"type":"rule","strokeDash":[10,4,2,4],"strokeWidth":0.9,"color":"#222"},
   "encoding":{"x":{"field":"b","type":"quantitative","scale":{"domain":[0.5,365.5],"nice":false,"zero":false},
     "axis":{"orient":"bottom","values":[14,45.5,76,108,136,166.5,197,228,258.5,289,319.5,348],"labelExpr":"['Jan','Feb','Mar','Apr','Mai','Jun','Jul','Aug','Sep','Okt','Nov','Dez'][floor(datum.value/30.5)]","ticks":false,"labelPadding":6,"title":"1998","titlePadding":6}}}},
  {"data":{"name":"edge"},"mark":{"type":"rule","strokeWidth":1.2,"color":"#000"},
   "encoding":{"x":{"field":"b","type":"quantitative","scale":{"domain":[0.5,365.5],"nice":false,"zero":false},"axis":null}}},
  {"data":{"name":"daily"},"mark":{"type":"bar","size":2,"color":"#000"},
   "encoding":{"x":{"field":"d","type":"quantitative","scale":{"domain":[0.5,365.5],"nice":false,"zero":false},"axis":null},
     "y":{"field":"p","type":"quantitative","scale":{"domain":[-1.05,22],"nice":false,"zero":false},
     "axis":{"orient":"right","values":[0,10,20],"title":"Niederschlag in mm","titleAngle":270,"titleBaseline":"middle","titleAlign":"center","titleX":51,"titleY":88}}}}
 ],
 "resolve":{"axis":{"y":"independent","x":"independent"}}
}
]
}
